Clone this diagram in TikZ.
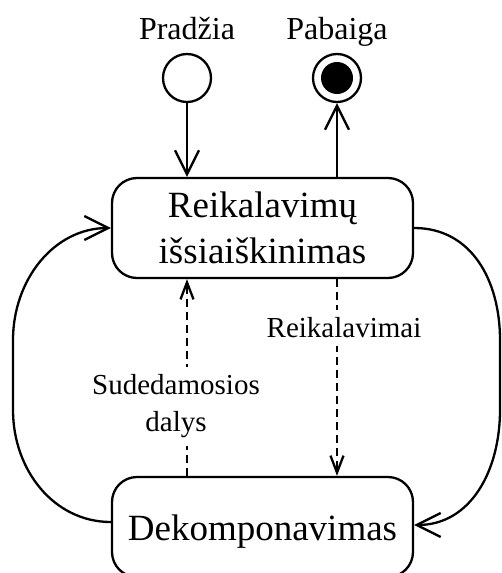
\documentclass[tikz,border=0pt]{standalone}
\usepackage{fontspec}
\setmainfont{Liberation Serif}
\usetikzlibrary{arrows.meta,calc}
\begin{document}
\begin{tikzpicture}[x=1pt,y=-1pt,
  state/.style={draw, line width=2.3pt, rounded corners=25pt, minimum width=301pt,
    minimum height=100pt, inner sep=0pt, align=center,
    font=\fontsize{37}{46}\selectfont},
  pseudo/.style={draw, circle, line width=2.3pt, minimum size=48pt, inner sep=0pt},
  toplabel/.style={anchor=base, font=\fontsize{32}{38}\selectfont},
  elabel/.style={fill=white, align=center, font=\fontsize{29}{37}\selectfont,
    inner xsep=1pt, inner ysep=8pt},
  flow/.style={line width=2.3pt, -{Straight Barb[length=24pt,width=24pt]}},
  dflow/.style={line width=2.3pt, dash pattern=on 8pt off 5pt,
    -{Straight Barb[length=17pt,width=13pt]}}
]
\useasboundingbox (0,0) rectangle (502,573);

% states
\node[state] (req) at (262.5,228) {Reikalavimų\\išsiaiškinimas};
\node[state, text height=26pt, text depth=0pt] (dek) at (262.5,527) {Dekomponavimas};

% initial and final pseudostates
\node[pseudo] (start) at (187,78) {};
\node[pseudo] (end) at (337,78) {};
\node[circle, fill=black, minimum size=32pt, inner sep=0pt] (enddot) at (end) {};
\node[toplabel] (startlbl) at (187,39) {Pradžia};
\node[toplabel] (endlbl) at (337,39) {Pabaiga};

% control flow
\draw[flow] (start) -- (start |- req.north);
\draw[flow] (end |- req.north) -- (end);

% object flow
\draw[dflow] (start |- dek.north) -- (start |- req.south);
\draw[dflow] (end |- req.south) -- (end |- dek.north);
\node[elabel] (parts) at (176,406.5) {Sudedamosios\\dalys};
\node[elabel] (reqs) at (344,328) {Reikalavimai};

% loops between the states
\coordinate (lloopA) at (13,410);
\coordinate (lloopB) at (13,340);
\coordinate (rloopA) at (500,340);
\coordinate (rloopB) at (500,410);
\draw[flow] ([yshift=5pt]dek.west) .. controls +(-57,0) and +(0,60) .. (lloopA)
  -- (lloopB) .. controls +(0,-60) and +(-57,0) .. (req.west);
\draw[flow] (req.east) .. controls +(57,0) and +(0,-60) .. (rloopA)
  -- (rloopB) .. controls +(0,60) and +(57,0) .. ([yshift=2pt]dek.east);
\end{tikzpicture}
\end{document}
